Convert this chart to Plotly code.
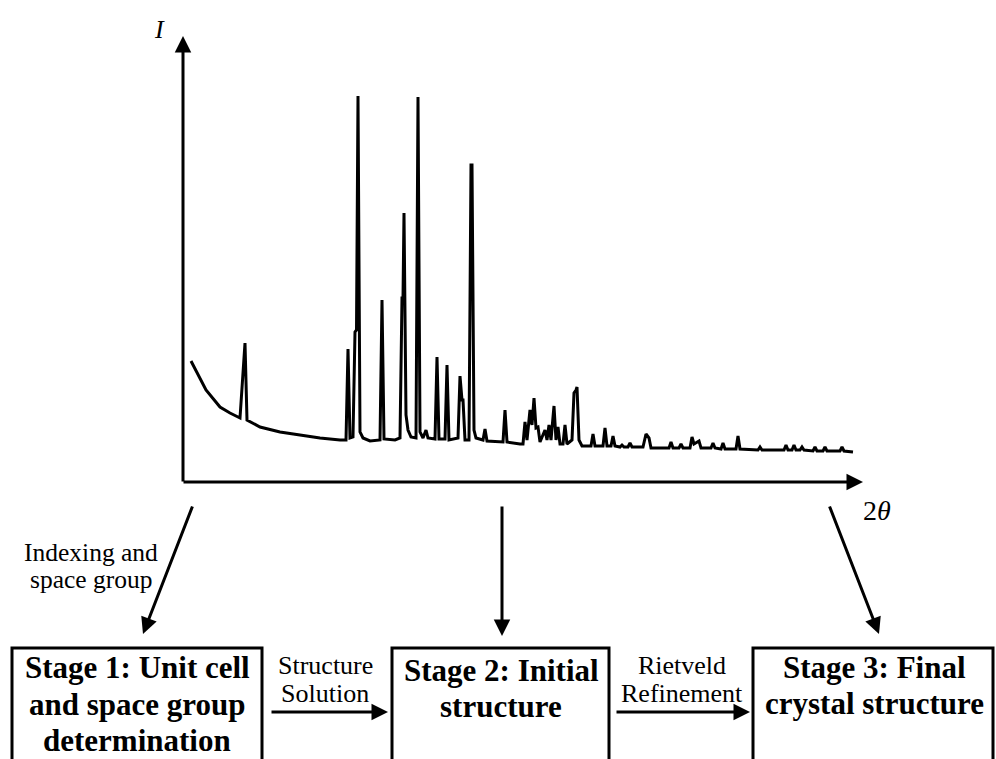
import plotly.graph_objects as go

# ---- Diffraction pattern vertices (2theta in degrees, intensity in arb. units) ----
pattern_2theta = [
    2.8, 4.3, 5.7, 6.7, 7.7, 8.2, 8.4, 9.7, 11.7, 13.7, 15.7, 17.7,
    18.3, 18.5, 18.7, 19.0, 19.2, 19.35, 19.5, 19.7, 20.0, 20.7,
    21.7, 21.9, 22.1, 23.2, 23.7, 23.9, 24.0, 24.1, 24.3, 24.5, 24.8,
    25.3, 25.5, 25.7, 26.0, 26.3, 26.5,
    27.2, 27.4, 27.6, 28.2, 28.4, 28.6,
    29.5, 29.7, 29.9, 30.0, 30.2, 30.6, 30.8, 30.9, 31.1, 31.3,
    32.0, 32.2, 32.4, 33.7, 34.0, 34.2, 34.4, 35.7,
    36.0, 36.2, 36.4, 36.7, 36.9, 37.1, 37.3, 37.5, 37.7,
    38.2, 38.4, 38.6, 38.8, 39.1, 39.3, 39.5, 39.7,
    40.0, 40.2, 40.4, 40.9, 41.1, 41.3, 41.4, 41.6, 41.9,
    42.8, 43.0, 43.2, 44.0, 44.2, 44.4, 44.8, 45.0, 45.2,
    45.7, 45.9, 46.1, 46.5, 46.7, 46.9,
    48.0, 48.3, 48.6, 48.8, 50.6, 50.8, 51.0, 51.6, 51.8, 52.0,
    52.7, 52.9, 53.1, 53.4, 53.6, 53.8, 54.8, 55.0, 55.2,
    55.8, 56.0, 56.2, 57.3, 57.5, 57.7, 59.5, 59.7, 59.9,
    62.1, 62.3, 62.5, 62.9, 63.1, 63.3, 63.7, 63.9, 64.1,
    65.0, 65.2, 65.4, 66.0, 66.2, 66.4, 67.7, 67.9, 68.1, 69.0,
]
pattern_intensity = [
    30.25, 23.0, 18.75, 17.25, 16.0, 34.75, 15.5, 13.75, 12.5, 11.75, 11.0, 10.5,
    10.5, 33.25, 11.0, 11.25, 37.5, 38.0, 96.5, 12.5, 11.0, 10.25,
    10.5, 45.5, 10.75, 10.5, 11.0, 46.0, 46.0, 67.25, 16.75, 13.0, 11.25,
    11.0, 96.25, 12.5, 11.0, 13.0, 11.0,
    10.75, 31.25, 10.75, 10.75, 29.25, 10.5,
    11.0, 26.5, 20.5, 20.5, 10.5, 10.5, 79.25, 79.25, 13.0, 11.0,
    10.5, 13.25, 10.25, 10.0, 10.0, 18.0, 10.0, 9.5,
    9.5, 15.0, 10.5, 18.0, 14.25, 21.0, 13.5, 13.75, 10.0,
    13.0, 10.5, 14.25, 10.5, 19.0, 10.5, 13.75, 9.5,
    9.5, 14.25, 9.5, 10.5, 22.25, 23.0, 23.75, 10.5, 9.0,
    9.0, 12.0, 9.0, 9.0, 13.5, 9.0, 9.0, 11.5, 9.0,
    8.75, 9.25, 8.75, 8.75, 9.75, 8.75,
    8.75, 12.0, 11.0, 8.5, 8.5, 10.0, 8.5, 8.5, 9.5, 8.5,
    8.5, 11.25, 9.5, 10.0, 10.25, 8.5, 8.5, 9.75, 8.5,
    8.25, 9.75, 8.25, 8.25, 11.5, 8.25, 8.0, 8.75, 8.0,
    8.0, 9.25, 8.0, 8.0, 9.25, 8.0, 8.0, 8.75, 8.0,
    7.75, 8.75, 7.75, 7.75, 8.75, 7.75, 7.75, 8.75, 7.75, 7.5,
]

# ---- Diagram texts ----
axis_labels = ["<i>I</i>", "2<i>θ</i>"]
stage_1_lines = ["Stage 1: Unit cell", "and space group", "determination"]
stage_2_lines = ["Stage 2: Initial", "structure"]
stage_3_lines = ["Stage 3: Final", "crystal structure"]
step_label_1 = ["Indexing and", "space group"]
step_label_2 = ["Structure", "Solution"]
step_label_3 = ["Rietveld", "Refinement"]

W, H = 996, 759
SERIF = "Liberation Serif, Times New Roman, serif"

fig = go.Figure()

# pattern trace on its own axes (positioned where the drawn axes are)
fig.add_trace(go.Scatter(
    x=pattern_2theta, y=pattern_intensity, mode="lines",
    line=dict(color="black", width=3), xaxis="x2", yaxis="y2",
    hoverinfo="skip", showlegend=False,
))

annotations = []

def arrow(x0, y0, x1, y1, width=3):
    annotations.append(dict(
        x=x1, y=y1, ax=x0, ay=y0, xref="x", yref="y", axref="x", ayref="y",
        text="", showarrow=True, arrowhead=2, arrowsize=1.1, arrowwidth=width,
        arrowcolor="black", standoff=0, startstandoff=0,
    ))

def label(x, y, text, size, bold=False):
    t = "<b>" + text + "</b>" if bold else text
    annotations.append(dict(
        x=x, y=y, xref="x", yref="y", text=t, showarrow=False,
        font=dict(family=SERIF, size=size, color="black"),
        xanchor="center", yanchor="middle",
    ))

# axes arrows
arrow(183, 483, 183, 36)
arrow(182, 482, 863, 482)

# flow arrows
arrow(193, 505, 143, 634)
arrow(502, 505, 502, 636)
arrow(829, 505, 879, 634)
arrow(270, 712, 388, 712)
arrow(615, 712, 750, 712)

# axis labels
label(159, 29, axis_labels[0], 26)
label(877, 510, axis_labels[1], 28)

# step labels
for i, t in enumerate(step_label_1):
    label(91, 552 + i * 27, t, 25.5)
for i, t in enumerate(step_label_2):
    label(325, 665 + i * 28, t, 26)
for i, t in enumerate(step_label_3):
    label(682, 665 + i * 28, t, 26)

# stage boxes
shapes = []
for (xa, xb) in [(12, 262), (392, 609), (753, 993)]:
    shapes.append(dict(type="rect", xref="x", yref="y", x0=xa, x1=xb, y0=648, y1=775,
                       line=dict(color="black", width=3), fillcolor="rgba(0,0,0,0)"))

for i, t in enumerate(stage_1_lines):
    label(137, [667, 704, 740][i], t, 31, bold=True)
for i, t in enumerate(stage_2_lines):
    label(501, [670, 706][i], t, 31, bold=True)
for i, t in enumerate(stage_3_lines):
    label(874, [667, 703][i], t, 31, bold=True)

fig.update_layout(
    width=W, height=H, margin=dict(l=0, r=0, t=0, b=0),
    paper_bgcolor="white", plot_bgcolor="white", showlegend=False,
    xaxis=dict(range=[0, W], visible=False, fixedrange=True, domain=[0, 1]),
    yaxis=dict(range=[H, 0], visible=False, fixedrange=True, domain=[0, 1]),
    xaxis2=dict(range=[2, 69.9], domain=[183 / W, 862 / W], visible=False,
                anchor="y2", fixedrange=True),
    yaxis2=dict(range=[0, 111.25], domain=[(H - 482) / H, (H - 37) / H], visible=False,
                anchor="x2", fixedrange=True),
    annotations=annotations, shapes=shapes,
)

fig.write_html("out.html")
